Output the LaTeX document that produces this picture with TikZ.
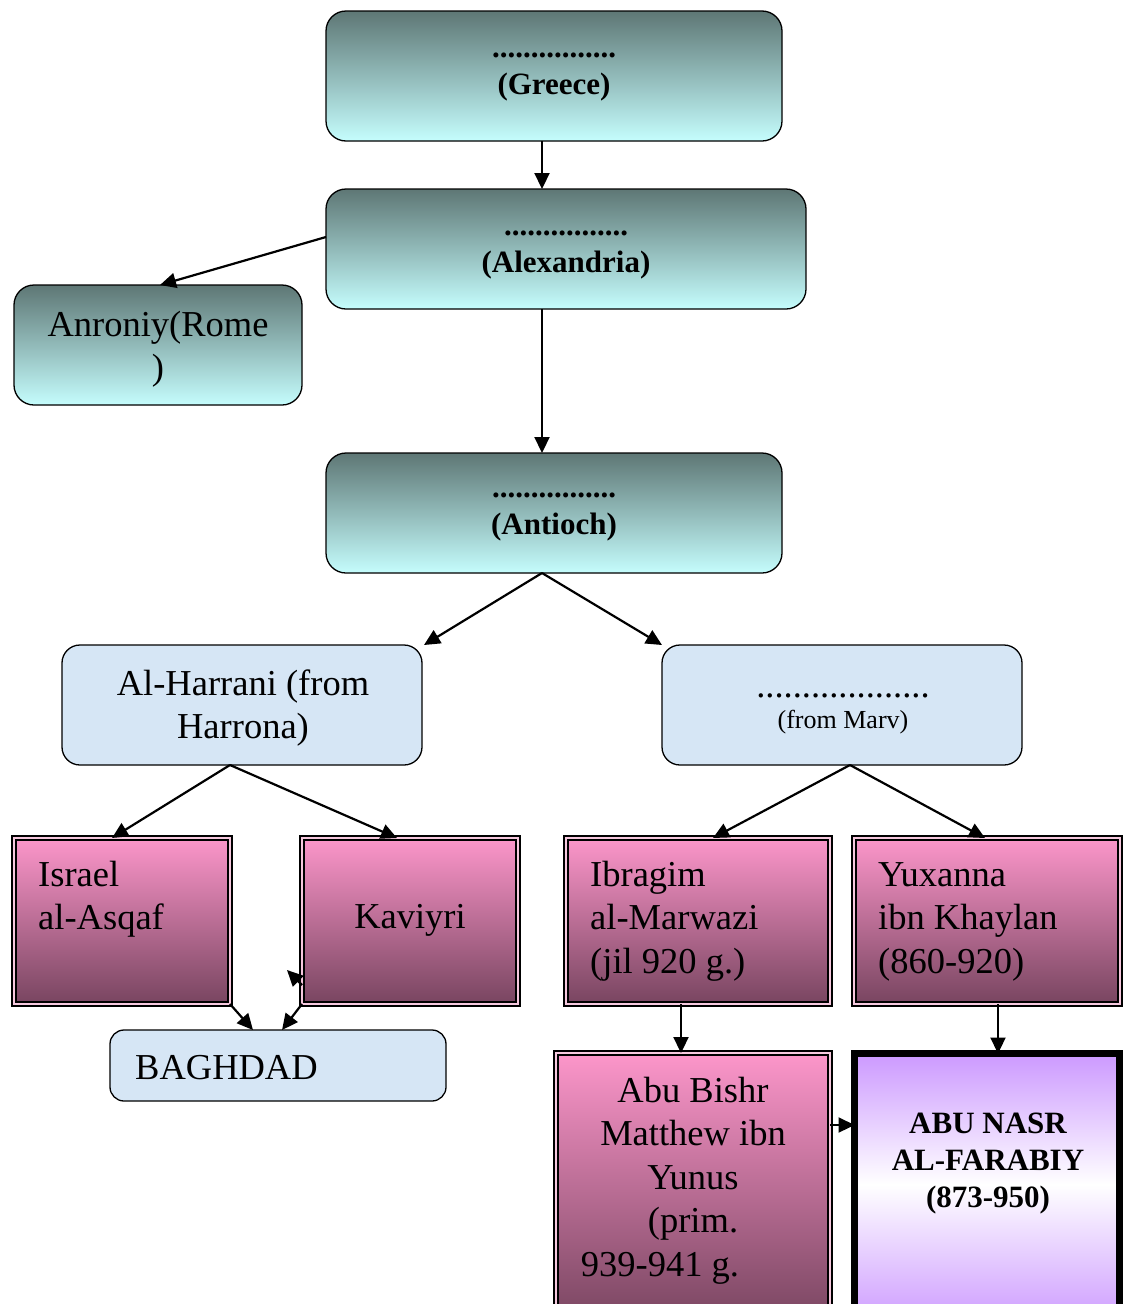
\documentclass[tikz,border=0pt]{standalone}
\usepackage{fontspec}
\setmainfont{Liberation Serif}
\usetikzlibrary{arrows.meta,calc}
\definecolor{tealtop}{HTML}{5E7775}
\definecolor{tealbot}{HTML}{C5FDFD}
\definecolor{pinktop}{HTML}{FC96CA}
\definecolor{pinkbot}{HTML}{784560}
\definecolor{lightblue}{HTML}{D6E6F5}
\definecolor{purp}{HTML}{CC99FF}
\definecolor{pinkgap}{HTML}{F6C8DE}
\begin{document}
\begin{tikzpicture}[x=1pt,y=-1pt,
  tealbox/.style={draw=black, line width=1.3pt, rounded corners=20pt, top color=tealtop, bottom color=tealbot, inner sep=0pt, outer sep=0pt, anchor=north west},
  bluebox/.style={draw=black, line width=1.3pt, rounded corners=18pt, fill=lightblue, inner sep=0pt, outer sep=0pt, anchor=north west},
  pinkbox/.style={draw=black, line width=1.6pt, double=pinkgap, double distance=2.4pt, top color=pinktop, bottom color=pinkbot, inner sep=0pt, outer sep=0pt, anchor=north west},
  farbox/.style={draw=black, line width=7pt, top color=purp, bottom color=purp!92!white, middle color=white, inner sep=0pt, outer sep=0pt, anchor=north west},
  bt/.style={font=\fontsize{31}{37}\selectfont\bfseries, align=center, inner sep=0pt, anchor=north},
  rt/.style={font=\fontsize{36.5}{43.5}\selectfont, inner sep=0pt},
  arr/.style={line width=2.2pt, -{Triangle[length=16pt,width=15pt]}}
]
\useasboundingbox (0,0) rectangle (1127,1304);

% boxes
\node[tealbox, minimum width=456pt, minimum height=130pt] (greece) at (326,11) {};
\node[tealbox, minimum width=480pt, minimum height=120pt] (alex) at (326,189) {};
\node[tealbox, minimum width=288pt, minimum height=120pt] (anron) at (14,285) {};
\node[tealbox, minimum width=456pt, minimum height=120pt] (antioch) at (326,453) {};
\node[bluebox, minimum width=360pt, minimum height=120pt] (harrani) at (62,645) {};
\node[bluebox, minimum width=360pt, minimum height=120pt] (marv) at (662,645) {};
\node[pinkbox, minimum width=216pt, minimum height=166pt] (israel) at (14,838) {};
\node[pinkbox, minimum width=216pt, minimum height=166pt] (kaviyri) at (302,838) {};
\node[pinkbox, minimum width=264pt, minimum height=166pt] (ibragim) at (566,838) {};
\node[pinkbox, minimum width=266pt, minimum height=166pt] (yuxanna) at (854,838) {};
\node[bluebox, rounded corners=14pt, minimum width=336pt, minimum height=71pt] (baghdad) at (110,1030) {};
\node[pinkbox, minimum width=274pt, minimum height=270pt] (abu) at (556,1053) {};
\node[farbox, minimum width=265pt, minimum height=262pt] (far) at (854.5,1053.5) {};

% texts
\node[bt] (greeceT) at (554,31) {\strut................\\\strut(Greece)};
\node[bt] (alexT) at (566,209) {\strut................\\\strut(Alexandria)};
\node[bt] (antiochT) at (554,471) {\strut................\\\strut(Antioch)};
\node[rt, align=center, anchor=north] (anronT) at (158,305.5) {\strut Anroniy(Rome\\\strut)};
\node[rt, align=center, anchor=north] (harraniT) at (243,664.5) {\strut Al-Harrani (from\\\strut Harrona)};
\node[rt, anchor=base] (marvDots) at (843,697) {...................};
\node[font=\fontsize{26}{30}\selectfont, inner sep=0pt, anchor=base] (marvT) at (843,728) {(from Marv)};
\node[rt, align=left, anchor=north west] (israelT) at (38,855.5) {\strut Israel\\\strut al-Asqaf};
\node[rt, anchor=base] (kaviyriT) at (410,928) {Kaviyri};
\node[rt, align=left, anchor=north west] (ibragimT) at (590,855.5) {\strut Ibragim\\\strut al-Marwazi\\\strut (jil 920 g.)};
\node[rt, align=left, anchor=north west] (yuxannaT) at (878,855.5) {\strut Yuxanna\\\strut ibn Khaylan\\\strut (860-920)};
\node[rt, anchor=base west] (baghdadT) at (135,1079) {BAGHDAD};
\node[rt, align=center, anchor=north] (abuT) at (693,1071.5) {\strut Abu Bishr\\\strut Matthew ibn\\\strut Yunus\\\strut (prim.\\\strut 939-941 g.\hspace*{66pt}};
\node[bt] (farT) at (988,1107) {\strut ABU NASR\\\strut AL-FARABIY\\\strut (873-950)};

% connectors
\draw[arr] (greece.south -| 542,0) -- (alex.north -| 542,0);
\draw[arr] (alex.west |- 0,237) -- (anron.north -| 160,0);
\draw[arr] (alex.south -| 542,0) -- (antioch.north -| 542,0);
\draw[arr] (antioch.south -| 542,0) -- (harrani.north -| 424,0);
\draw[arr] (antioch.south -| 542,0) -- (marv.north -| 662,0);
\draw[arr] (harrani.south -| 230,0) -- (israel.north -| 112,0);
\draw[arr] (harrani.south -| 230,0) -- (kaviyri.north -| 397,0);
\draw[arr] (marv.south -| 850,0) -- (ibragim.north -| 713,0);
\draw[arr] (marv.south -| 850,0) -- (yuxanna.north -| 985,0);
\draw[arr] (israel.south east) -- (baghdad.north -| 253,0);
\draw[arr] (kaviyri.south west) -- (baghdad.north -| 282,0);
\coordinate (stray) at (287,970);
\draw[arr] (kaviyri.west |- 0,985) -- (stray);
\draw[arr] (ibragim.south -| 681,0) -- (abu.north -| 681,0);
\draw[arr] (yuxanna.south -| 998,0) -- (far.north -| 998,0);
\draw[arr] (abu.east |- 0,1125) -- (far.west |- 0,1125);
\end{tikzpicture}
\end{document}
